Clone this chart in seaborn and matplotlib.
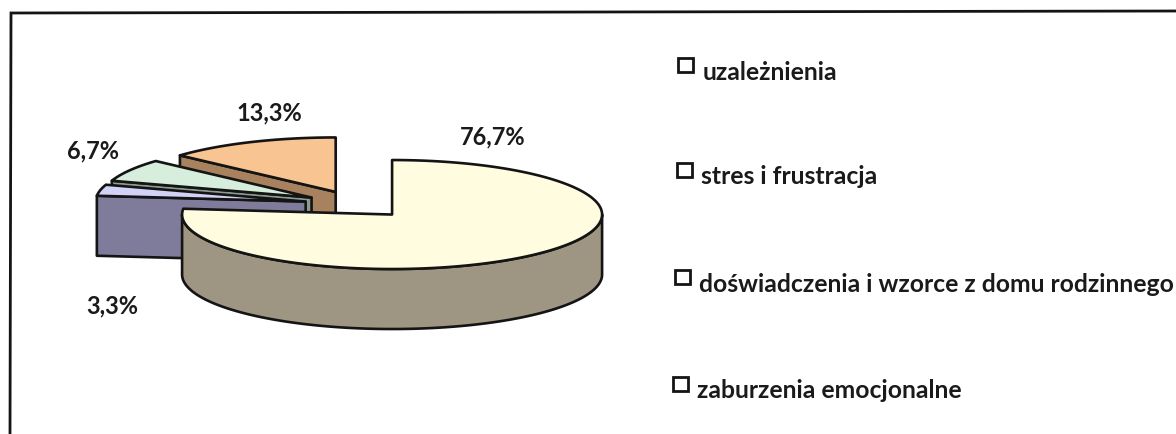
import numpy as np
import matplotlib
matplotlib.use("Agg")
import matplotlib.pyplot as plt
from matplotlib.patches import Rectangle
import seaborn as sns

# data
categories = ["zaburzenia emocjonalne", "uzależnienia", "stres i frustracja", "doświadczenia i wzorce z domu rodzinnego"]
values = [76.7, 3.3, 6.7, 13.3]
pct_labels = ["76,7%", "3,3%", "6,7%", "13,3%"]
legend_labels = ["uzależnienia", "stres i frustracja", "doświadczenia i wzorce z domu rodzinnego", "zaburzenia emocjonalne"]
top_colors = ["#FFFCE0", "#D2D2F6", "#D6EEDB", "#F8C491"]
side_colors = ["#9E9682", "#7F7B9A", "#8C9C90", "#A8825F"]

sns.set_theme(style="white")
plt.rcParams["font.family"] = ["Lato", "DejaVu Sans"]

W, H = 1176, 434
fig = plt.figure(figsize=(W / 100, H / 100), dpi=100)
ax = fig.add_axes([0, 0, 1, 1])
ax.set_xlim(0, W)
ax.set_ylim(H, 0)
ax.axis("off")

CX, CY, RX, RY, DEPTH, EXPL = 357, 204.4, 210, 54.5, 60, 0.25
LW = 1.9
INK = "#141414"


def pt(cx, cy, a):
    return cx + RX * np.sin(a), cy - RY * np.cos(a)


fr = np.cumsum([0] + values) / sum(values) * 2 * np.pi
for i in [3, 2, 1, 0]:
    a0, a1 = fr[i], fr[i + 1]
    m = (a0 + a1) / 2
    cx = CX + EXPL * RX * np.sin(m)
    cy = CY - EXPL * RY * np.cos(m)
    t = np.linspace(a0, a1, 200)
    ex, ey = pt(cx, cy, t)
    z = 5 - i
    # front rim
    lo, hi = max(a0, np.pi / 2), min(a1, 3 * np.pi / 2)
    if hi > lo:
        r = np.linspace(lo, hi, 200)
        rx, ry = pt(cx, cy, r)
        ax.fill(np.r_[rx, rx[::-1]], np.r_[ry, ry[::-1] + DEPTH],
                fc=side_colors[i], ec=INK, lw=LW, joinstyle="round", zorder=z)
    # radial face for slices whose leading edge faces the viewer
    if a0 > 3 * np.pi / 2:
        px, py = pt(cx, cy, a0)
        ax.fill([px, cx, cx, px], [py, cy, cy + DEPTH, py + DEPTH],
                fc=side_colors[i], ec=INK, lw=LW, joinstyle="round", zorder=z)
    ax.fill(np.r_[cx, ex], np.r_[cy, ey], fc=top_colors[i], ec=INK, lw=LW,
            joinstyle="round", zorder=z)

label_pos = [(493, 137), (112, 306), (93, 151), (269, 113)]
for s, (x, y) in zip(pct_labels, label_pos):
    ax.text(x, y, s, fontsize=17, fontweight="bold", ha="center", va="center", color="#1a1a1a", zorder=10)

box_y = [65, 170, 276.5, 384]
box_x = [678, 677, 675, 673]
text_x = [703, 701, 699, 697]
text_y = [72, 177, 284, 390]
for s, by, bx, tx, ty in zip(legend_labels, box_y, box_x, text_x, text_y):
    ax.add_patch(Rectangle((bx, by - 7), 15, 14, fc="white", ec=INK, lw=2.0, zorder=5))
    ax.text(tx, ty, s, fontsize=17.8, fontweight="bold", ha="left", va="center", color="#1a1a1a", zorder=10)

# frame
ax.plot([10, 11, W], [H, 13, 11], color=INK, lw=2.0, solid_joinstyle="miter", zorder=1)

fig.savefig("out.png", dpi=100, facecolor="white")
